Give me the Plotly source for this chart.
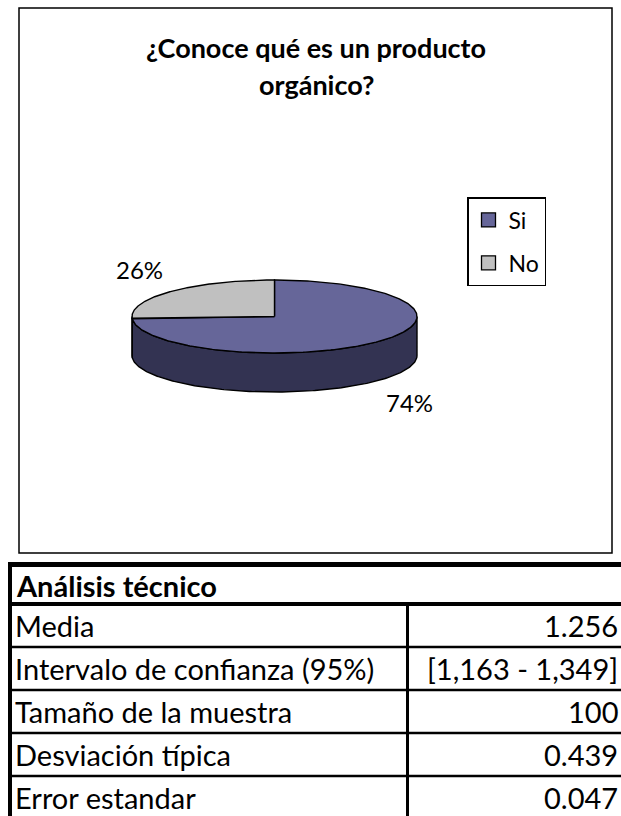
import numpy as np
import plotly.graph_objects as go

# ---------------- data ----------------
title_lines = ["¿Conoce qué es un producto", "orgánico?"]
labels = ["Si", "No"]
percent = [74, 26]
top_colors = ["#666699", "#C0C0C0"]
side_colors = ["#333352", "#808080"]

table_title = "Análisis técnico"
stat_names = ["Media", "Intervalo de confianza (95%)", "Tamaño de la muestra",
              "Desviación típica", "Error estandar"]
stat_values = ["1.256", "[1,163 - 1,349]", "100", "0.439", "0.047"]

# ---------------- layout constants (pixels) ----------------
W, H = 621, 816
FONT = "Lato"
cx, cy, rx, ry, depth = 274.5, 316.5, 142.5, 36.5, 39.0

fig = go.Figure()

def ell(t):
    return cx + rx * np.cos(t), cy - ry * np.sin(t)

# slice angle ranges: start at 12 o'clock, clockwise
total = float(sum(percent))
bounds = []
a = np.pi / 2
for v in percent:
    b = a - 2 * np.pi * v / total
    bounds.append((a, b))
    a = b

# side walls (front half only: angles in [-pi, 0])
for (a0, a1), col in zip(bounds, side_colors):
    lo, hi = max(a1, -np.pi), min(a0, 0.0)
    if hi <= lo:
        continue
    t = np.linspace(hi, lo, 200)
    xt, yt = ell(t)
    xs = np.concatenate([xt, xt[::-1], xt[:1]])
    ys = np.concatenate([yt, (yt + depth)[::-1], yt[:1]])
    fig.add_trace(go.Scatter(x=xs, y=ys, mode="lines", fill="toself",
                             fillcolor=col, line=dict(color="black", width=1.4),
                             hoverinfo="skip", showlegend=False))

# top faces
for (a0, a1), col, lab, v in zip(bounds, top_colors, labels, percent):
    t = np.linspace(a0, a1, 300)
    xt, yt = ell(t)
    xs = np.concatenate([[cx], xt, [cx]])
    ys = np.concatenate([[cy], yt, [cy]])
    fig.add_trace(go.Scatter(x=xs, y=ys, mode="lines", fill="toself",
                             fillcolor=col, line=dict(color="black", width=1.4),
                             name=lab, hoverinfo="text", text=f"{lab}: {v}%",
                             showlegend=False))

# percent labels placed outside the slices
for (a0, a1), v in zip(bounds, percent):
    m = (a0 + a1) / 2
    lx = cx + 1.3 * rx * np.cos(m)
    ly = cy - 1.9 * ry * np.sin(m) + (depth if np.sin(m) < 0 else 0)
    fig.add_annotation(x=lx, y=ly, text=f"{v}%", showarrow=False,
                       font=dict(family=FONT, size=24, color="black"),
                       xanchor="center", yanchor="middle")

# legend entries
for i, (lab, col) in enumerate(zip(labels, top_colors)):
    fig.add_trace(go.Scatter(x=[None], y=[None], mode="markers", name=lab,
                             legendgroup=f"g{i}",
                             marker=dict(symbol="square", size=14, color=col,
                                         line=dict(color="black", width=1.3))))

# title
for i, line in enumerate(title_lines):
    fig.add_annotation(x=316, y=47 + 37 * i, text=f"<b>{line}</b>", showarrow=False,
                       font=dict(family=FONT, size=27, color="black"),
                       xanchor="center", yanchor="middle")

shapes = []
# chart frame
shapes.append(dict(type="rect", x0=19, y0=8, x1=612, y1=553,
                   line=dict(color="black", width=1.5), layer="below"))

# table
row_top0, row_h = 604.0, 43.0
tx0, tx1, col_x = 10.0, 630.0, 407.5
shapes.append(dict(type="line", x0=8, x1=tx1, y0=564.5, y1=564.5,
                   line=dict(color="black", width=5)))
shapes.append(dict(type="line", x0=tx0, x1=tx0, y0=562, y1=H + 5,
                   line=dict(color="black", width=4)))
shapes.append(dict(type="line", x0=tx0, x1=tx1, y0=row_top0, y1=row_top0,
                   line=dict(color="black", width=4)))
shapes.append(dict(type="line", x0=col_x, x1=col_x, y0=row_top0, y1=H + 5,
                   line=dict(color="black", width=3)))
for i in range(1, len(stat_names)):
    yb = row_top0 + i * row_h
    shapes.append(dict(type="line", x0=tx0, x1=tx1, y0=yb, y1=yb,
                       line=dict(color="black", width=2.5)))

fig.add_annotation(x=14, y=(564.5 + row_top0) / 2 + 1, text=f"<b>{table_title}</b>",
                   showarrow=False, xanchor="left", yanchor="middle",
                   font=dict(family=FONT, size=29, color="black"))
for i, (n, v) in enumerate(zip(stat_names, stat_values)):
    yc = row_top0 + (i + 0.5) * row_h
    fig.add_annotation(x=13, y=yc, text=n, showarrow=False, xanchor="left",
                       yanchor="middle", font=dict(family=FONT, size=29, color="black"))
    fig.add_annotation(x=620, y=yc, text=v, showarrow=False, xanchor="right",
                       yanchor="middle", font=dict(family=FONT, size=29, color="black"))

fig.update_layout(
    width=W, height=H, margin=dict(l=0, r=0, t=0, b=0),
    paper_bgcolor="white", plot_bgcolor="white",
    xaxis=dict(range=[0, W], visible=False, fixedrange=True),
    yaxis=dict(range=[H, 0], visible=False, fixedrange=True),
    shapes=shapes,
    showlegend=True,
    legend=dict(x=467 / W, y=1 - 197 / H, xanchor="left", yanchor="top",
                bgcolor="white", bordercolor="black", borderwidth=1.5,
                font=dict(family=FONT, size=23, color="black"),
                tracegroupgap=10, itemwidth=30),
)

fig.write_html("out.html", config={"displayModeBar": False},
               post_script="document.body.style.margin='0';document.body.style.overflow='hidden';")
